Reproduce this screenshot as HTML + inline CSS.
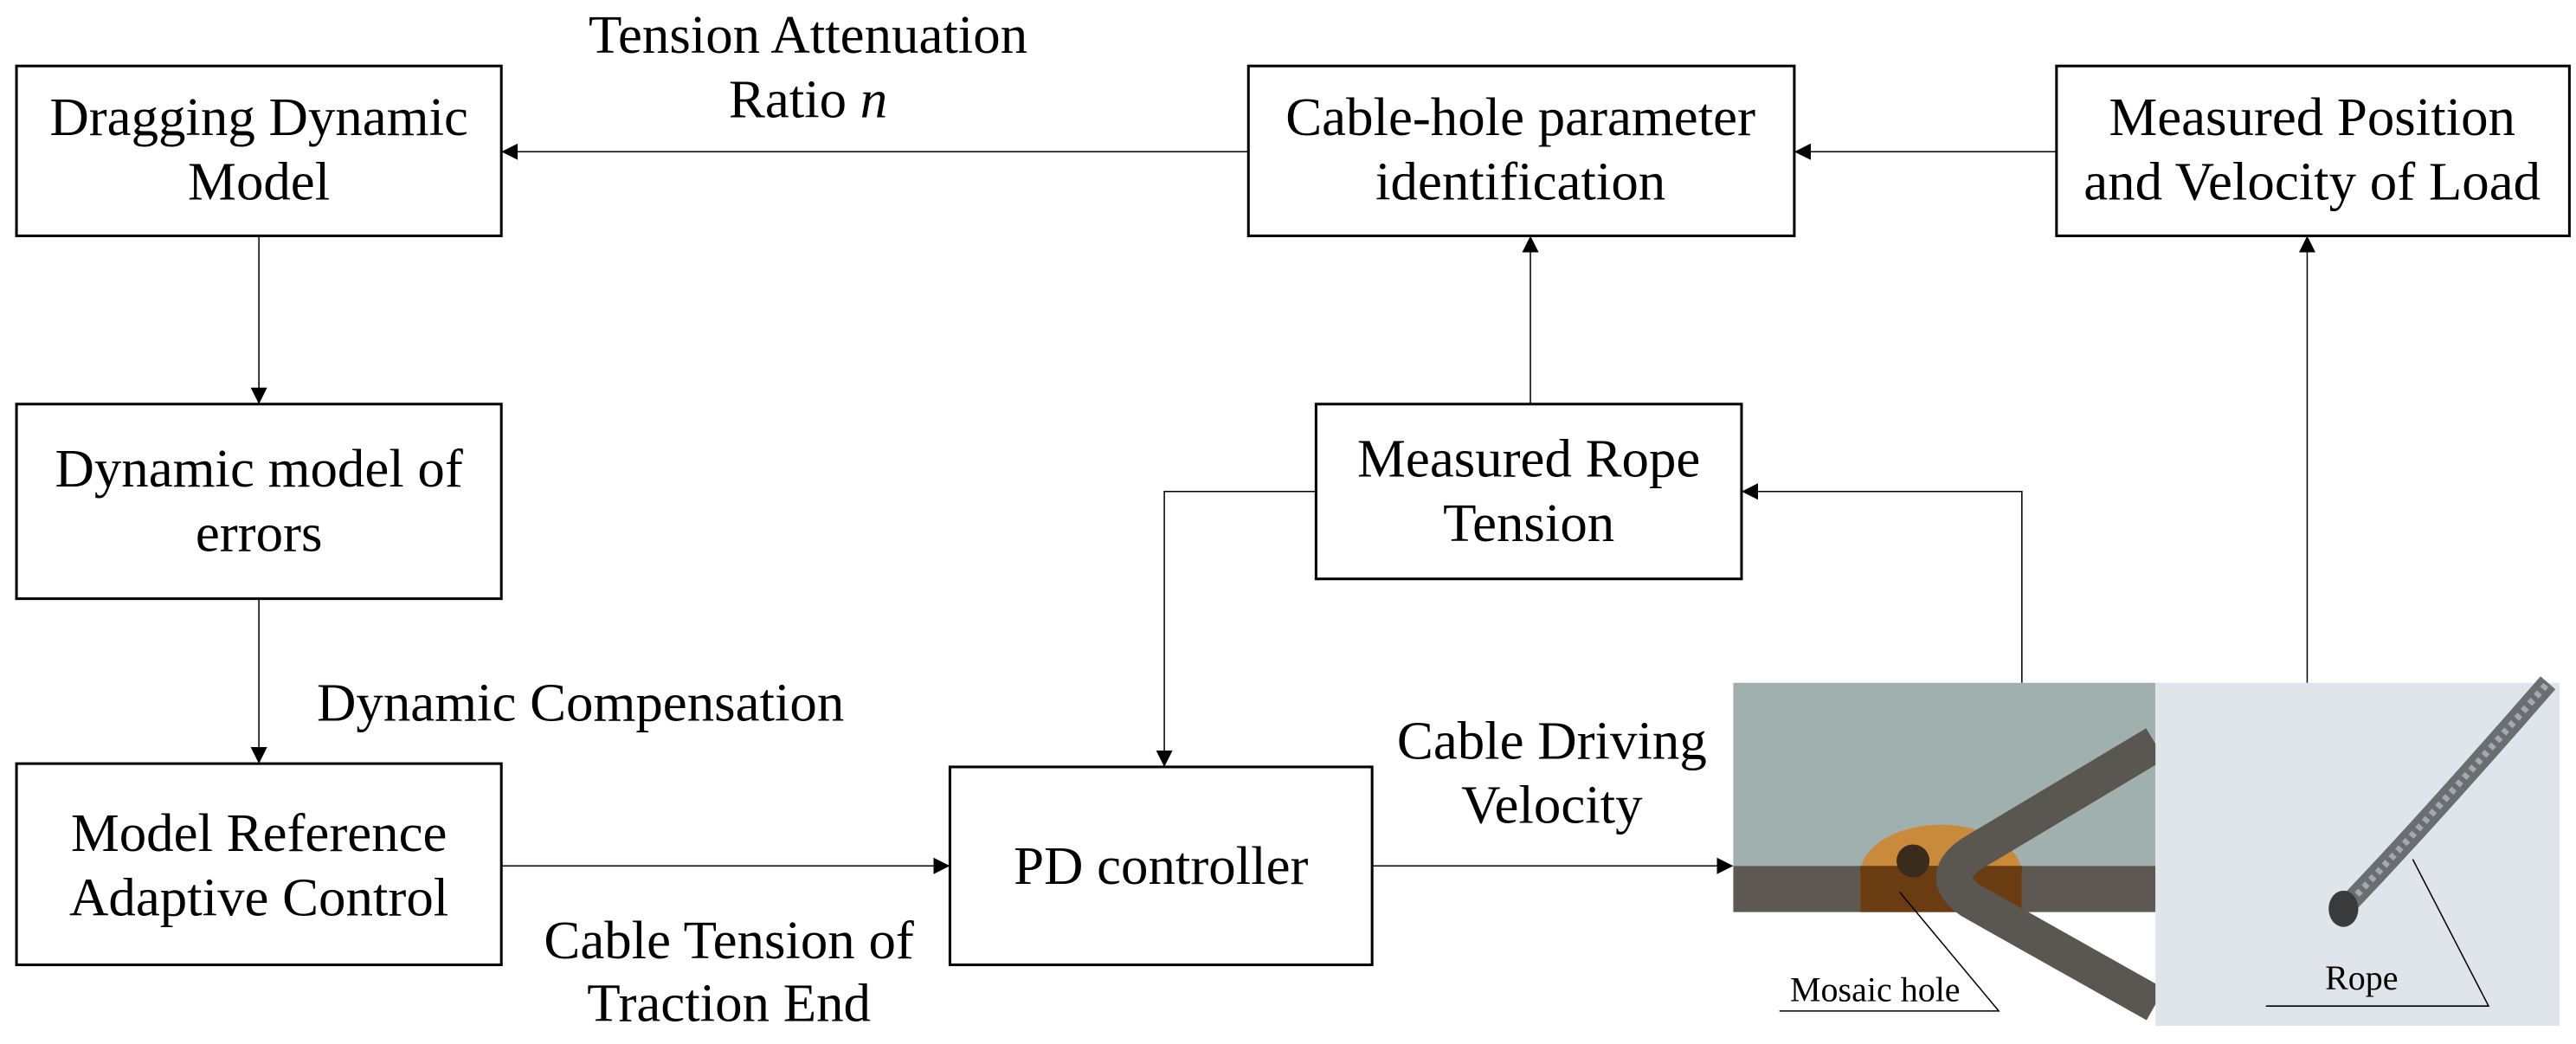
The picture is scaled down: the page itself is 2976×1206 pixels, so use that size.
<!DOCTYPE html>
<html><head><meta charset="utf-8"><style>
html,body{margin:0;padding:0;background:#fff;}
svg{display:block;}
text{font-family:"Liberation Serif",serif;fill:#000;}
</style></head><body>
<svg width="2976" height="1206" viewBox="0 0 1562 633" preserveAspectRatio="none" xmlns="http://www.w3.org/2000/svg">
<defs>
<marker id="ah" markerWidth="10" markerHeight="10" refX="9" refY="5" orient="auto" markerUnits="userSpaceOnUse">
<path d="M0,0 L10,5 L0,10 z" fill="#000"/></marker>
</defs>
<g fill="#fff" stroke="#000" stroke-width="1.6">
<rect x="10" y="40" width="294" height="103"/>
<rect x="10" y="245" width="294" height="118"/>
<rect x="10" y="463" width="294" height="122"/>
<rect x="576" y="465" width="256" height="120"/>
<rect x="798" y="245" width="258" height="106"/>
<rect x="757" y="40" width="331" height="103"/>
<rect x="1247" y="40" width="311" height="103"/>
</g>
<g stroke="#000" stroke-width="0.8" fill="none" marker-end="url(#ah)">
<line x1="757" y1="92" x2="305" y2="92"/>
<line x1="157" y1="143" x2="157" y2="244"/>
<line x1="157" y1="363" x2="157" y2="462"/>
<line x1="304" y1="525" x2="575" y2="525"/>
<line x1="832" y1="525" x2="1050" y2="525"/>
<polyline points="1226,414 1226,298 1057,298"/>
<polyline points="798,298 706,298 706,464"/>
<line x1="928" y1="245" x2="928" y2="144"/>
<line x1="1399" y1="414" x2="1399" y2="144"/>
<line x1="1247" y1="92" x2="1089" y2="92"/>
</g>
<g font-size="33" text-anchor="middle">
<text x="157" y="82">Dragging Dynamic</text>
<text x="157" y="121">Model</text>
<text x="157" y="295">Dynamic model of</text>
<text x="157" y="334">errors</text>
<text x="157" y="516">Model Reference</text>
<text x="157" y="555">Adaptive Control</text>
<text x="704" y="536">PD controller</text>
<text x="927" y="289">Measured Rope</text>
<text x="927" y="328">Tension</text>
<text x="922" y="82">Cable-hole parameter</text>
<text x="922" y="121">identification</text>
<text x="1402" y="82">Measured Position</text>
<text x="1402" y="121">and Velocity of Load</text>
<text x="490" y="32">Tension Attenuation</text>
<text x="490" y="71">Ratio <tspan font-style="italic">n</tspan></text>
<text x="352" y="437">Dynamic Compensation</text>
<text x="442" y="581">Cable Tension of</text>
<text x="442" y="619">Traction End</text>
<text x="941" y="460">Cable Driving</text>
<text x="941" y="499">Velocity</text>
</g>
<!-- photo left -->
<rect x="1051" y="414" width="256" height="111" fill="#9fb0ae"/>
<rect x="1051" y="525" width="256" height="28" fill="#5e5853"/>
<path d="M1128,553 L1128,530 A49,30 0 0 1 1226,530 L1226,553 Z" fill="#c98a3c"/>
<rect x="1128" y="525" width="98" height="28" fill="#6a3c12"/>
<circle cx="1160" cy="522" r="10" fill="#3a2c1c"/>
<path d="M1307,451 L1195,518 Q1175,532 1195,546 L1307,609" fill="none" stroke="#5a5650" stroke-width="22" stroke-linejoin="round"/>
<!-- photo right -->
<rect x="1307" y="414" width="245" height="208" fill="#dfe5ea"/>
<path d="M1421,551 Q1470,500 1545,414" fill="none" stroke="#6b6e70" stroke-width="12"/>
<path d="M1421,551 Q1470,500 1545,414" fill="none" stroke="#a5a9ad" stroke-width="4" stroke-dasharray="3,3"/>
<ellipse cx="1421" cy="551" rx="9" ry="11" fill="#3a3a3a"/>
<!-- callouts -->
<g stroke="#000" stroke-width="0.8" fill="none">
<polyline points="1152,541 1212,613 1079,613"/>
<polyline points="1463,521 1509,610 1374,610"/>
</g>
<g font-size="21" text-anchor="middle">
<text x="1137" y="607">Mosaic hole</text>
<text x="1432" y="600">Rope</text>
</g>
</svg>
</body></html>
